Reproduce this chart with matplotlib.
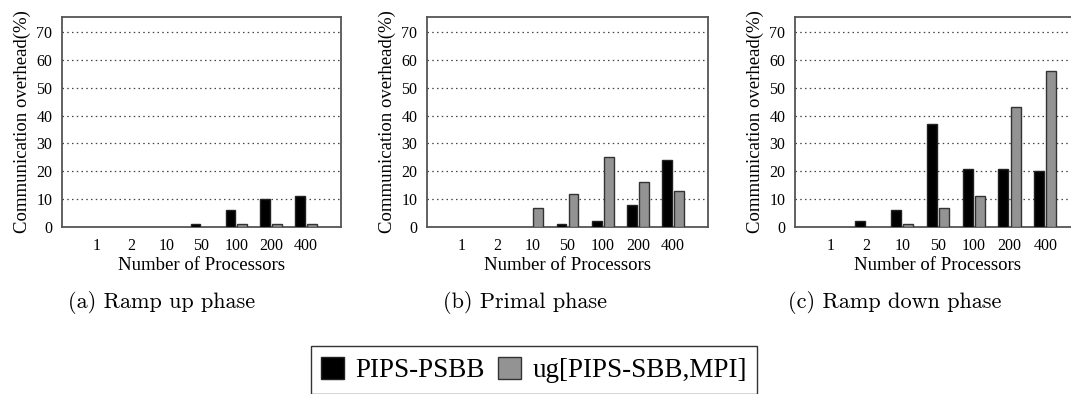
import numpy as np
import matplotlib
matplotlib.use("Agg")
import matplotlib.pyplot as plt
from matplotlib.patches import Patch

plt.rcParams['font.family'] = ['Liberation Serif', 'DejaVu Serif']

procs = ["1", "2", "10", "50", "100", "200", "400"]

# Ramp up phase
rampup_psbb = [0, 0, 0, 1, 6, 10, 11]
rampup_ug = [0, 0, 0, 0, 1, 1, 1]
# Primal phase
primal_psbb = [0, 0, 0, 1, 2, 8, 24]
primal_ug = [0, 0, 7, 12, 25, 16, 13]
# Ramp down phase
rampdown_psbb = [0, 2, 6, 37, 21, 21, 20]
rampdown_ug = [0, 0, 1, 7, 11, 43, 56]

captions = ["(a) Ramp up phase", "(b) Primal phase", "(c) Ramp down phase"]
series = [(rampup_psbb, rampup_ug), (primal_psbb, primal_ug), (rampdown_psbb, rampdown_ug)]

W, H = 1071, 394
fig = plt.figure(figsize=(W / 100, H / 100), dpi=100)

# axes boxes in pixels: left, width
boxes = [(62, 279), (427, 281), (795, 286)]
cap_x = [162, 525, 895]
top, bot = 17, 227

black = "#000000"
gray = "#939393"
frame = "#555555"
bw = 0.28
off = 0.17

x = np.arange(1, len(procs) + 1)

for (l, w), (psbb, ug), cap, cx in zip(boxes, series, captions, cap_x):
    ax = fig.add_axes([l / W, 1 - bot / H, w / W, (bot - top) / H])
    psbb = np.array(psbb)
    ug = np.array(ug)
    m1 = psbb > 0
    m2 = ug > 0
    ax.bar(x[m1] - off, psbb[m1], width=bw, color=black, edgecolor="#222222", linewidth=1, zorder=3)
    ax.bar(x[m2] + off, ug[m2], width=bw, color=gray, edgecolor="#333333", linewidth=1, zorder=3)
    ax.set_xlim(0, 8)
    ax.set_ylim(0, 75.4)
    ax.set_xticks(x)
    ax.set_xticklabels(procs)
    ax.set_yticks(np.arange(0, 71, 10))
    ax.tick_params(length=0, labelsize=11.5)
    ax.tick_params(axis='x', pad=8)
    ax.tick_params(axis='y', pad=7)
    for yv in range(10, 71, 10):
        ax.axhline(yv, color="#444444", linewidth=0.9, linestyle=(0, (1.2, 2.6)), zorder=1)
    for s in ax.spines.values():
        s.set_color(frame)
        s.set_linewidth(1.3)
    ax.set_xlabel("Number of Processors", fontsize=13.5, labelpad=2)
    ax.set_ylabel("Communication overhead(%)", fontsize=13.5, labelpad=4)
    fig.text(cx / W, 1 - 302 / H, cap, ha="center", va="center", fontsize=16, family="cmr10")

handles = [Patch(facecolor=black, edgecolor="#222222", linewidth=1),
           Patch(facecolor=gray, edgecolor="#333333", linewidth=1)]
leg = fig.legend(handles, ["PIPS-PSBB", "ug[PIPS-SBB,MPI]"], loc="center",
                 bbox_to_anchor=(534 / W, 1 - 370 / H), ncol=2, fontsize=19.5,
                 frameon=True, fancybox=False, handlelength=0.85, handleheight=0.85,
                 handletextpad=0.4, columnspacing=0.5, borderpad=0.4, borderaxespad=0)
leg.get_frame().set_edgecolor("#000000")
leg.get_frame().set_linewidth(1.0)

fig.savefig("out.png", dpi=100)
